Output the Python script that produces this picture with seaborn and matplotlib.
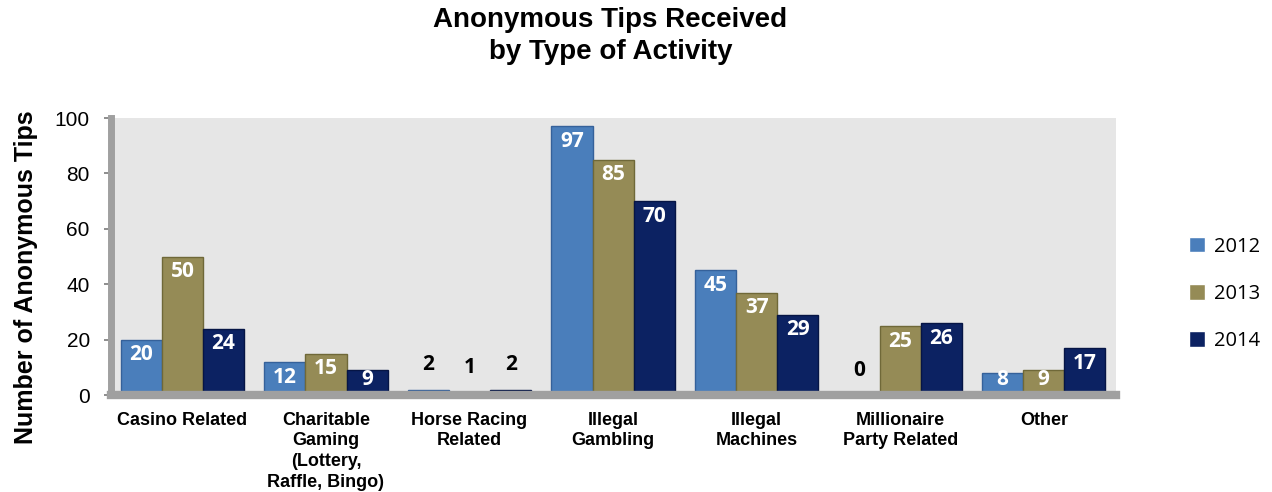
import matplotlib
matplotlib.use("Agg")
import matplotlib.pyplot as plt
import seaborn as sns
import pandas as pd

categories = ["Casino Related", "Charitable\nGaming\n(Lottery,\nRaffle, Bingo)",
              "Horse Racing\nRelated", "Illegal\nGambling", "Illegal\nMachines",
              "Millionaire\nParty Related", "Other"]
years = ["2012", "2013", "2014"]
v2012 = [20, 12, 2, 97, 45, 0, 8]
v2013 = [50, 15, 1, 85, 37, 25, 9]
v2014 = [24, 9, 2, 70, 29, 26, 17]
colors = ["#4a7ebb", "#958b56", "#0c2262"]
edges = ["#35619a", "#6f6838", "#061545"]

rows = []
for y, vals in zip(years, [v2012, v2013, v2014]):
    for c, v in zip(categories, vals):
        rows.append({"Category": c, "Year": y, "Value": v})
df = pd.DataFrame(rows)

sns.set_theme(style="white")
plt.rcParams["font.family"] = ["Liberation Sans", "DejaVu Sans"]
plt.rcParams["text.color"] = "black"
plt.rcParams["axes.labelcolor"] = "black"
plt.rcParams["xtick.color"] = "black"
plt.rcParams["ytick.color"] = "black"

fig = plt.figure(figsize=(12.72, 4.92), dpi=100)
ax = fig.add_axes([0.087, 0.197, 0.79, 0.563])
sns.barplot(data=df, x="Category", y="Value", hue="Year", palette=colors,
            width=0.86, ax=ax, saturation=1, legend=True)

lab_font = ["Open Sans", "DejaVu Sans"]
for i, cont in enumerate(ax.containers):
    for p in cont.patches:
        p.set_edgecolor(edges[i])
        p.set_linewidth(1.0)
    for p, v in zip(cont.patches, [v2012, v2013, v2014][i]):
        xc = p.get_x() + p.get_width() / 2
        if v <= 3:
            ax.text(xc, v + 9, str(v), ha="center", va="center", color="black",
                    fontsize=15, fontweight="bold", family=lab_font)
        else:
            ax.text(xc, max(v - 5.5, 5.5), str(v), ha="center", va="center", color="white",
                    fontsize=15, fontweight="bold", family=lab_font)

ax.set_facecolor("#e6e6e6")
ax.set_ylim(0, 100)
ax.set_xlim(-0.5, 6.5)
ax.set_yticks([0, 20, 40, 60, 80, 100])
ax.tick_params(axis="y", labelsize=15, length=5, color="#808080", left=True, pad=10,
               labelcolor="black")
ax.tick_params(axis="x", labelsize=13, length=0, pad=12, labelcolor="black")
for lbl in ax.get_xticklabels():
    lbl.set_fontweight("bold")
    lbl.set_linespacing(1.28)
ax.set_xlabel("")
ax.set_ylabel("Number of Anonymous Tips", fontsize=18, fontweight="bold", color="black")
ax.yaxis.set_label_coords(-0.072, 0.425)
for s in ["top", "right"]:
    ax.spines[s].set_visible(False)
ax.spines["left"].set_color("#a0a0a0")
ax.spines["left"].set_linewidth(5)
ax.spines["bottom"].set_color("#a0a0a0")
ax.spines["bottom"].set_linewidth(6)

fig.suptitle("Anonymous Tips Received\nby Type of Activity", fontsize=20,
             fontweight="bold", x=0.48, y=0.985, linespacing=1.3, color="black")

leg = ax.legend(title=None, loc="center left", bbox_to_anchor=(1.055, 0.365),
                frameon=False, labelspacing=1.35, handlelength=0.8,
                handleheight=0.8, handletextpad=0.45,
                prop={"family": lab_font, "size": 14.5})
for t in leg.get_texts():
    t.set_color("black")

fig.savefig("out.png", dpi=100)
